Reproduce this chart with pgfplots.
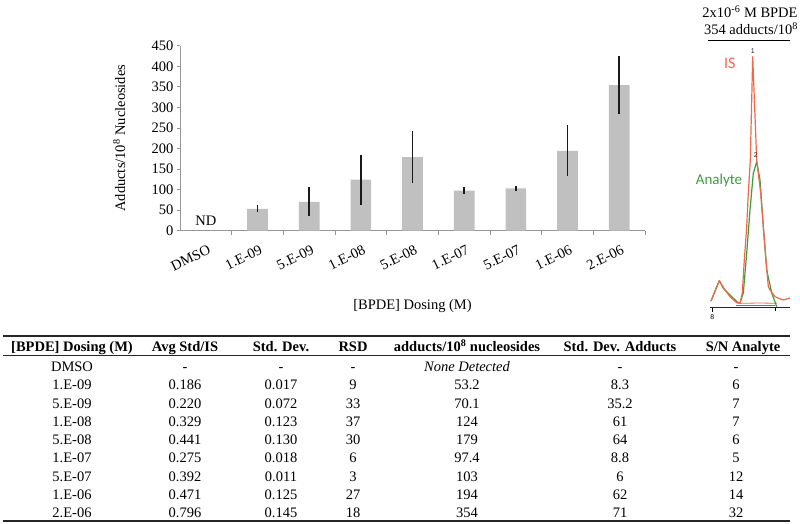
\documentclass[border=0pt]{standalone}
\usepackage{pgfplots}
\pgfplotsset{compat=1.18}
\usepackage{fontspec}
\setmainfont{Liberation Serif}
\newfontfamily\calibri{Carlito}
\newfontfamily\sansf{Liberation Sans}
\definecolor{barcol}{RGB}{192,192,192}
\definecolor{axcol}{RGB}{150,150,150}
\definecolor{iscol}{RGB}{240,104,72}
\definecolor{ancol}{RGB}{62,156,62}
\newcommand{\fs}{\fontsize{14.5}{17}\selectfont}
\newcommand{\T}[3]{\node[anchor=base,inner sep=0pt,font=\fs] at (#1pt,-#2pt) {#3};}
\newcommand{\B}[3]{\node[anchor=base,inner sep=0pt,font=\fs\bfseries] at (#1pt,-#2pt) {#3};}
\begin{document}
\begin{tikzpicture}
\useasboundingbox (0,0) rectangle (800pt,-523pt);
% ---------------- bar chart ----------------
\begin{axis}[
  at={(180pt,-230.7pt)}, anchor=south west,
  scale only axis, width=465pt, height=185pt,
  xmin=-0.5, xmax=8.5, ymin=0, ymax=450,
  axis x line*=bottom, axis y line*=left,
  axis line style={axcol, line width=0.8pt},
  xtick={0,...,8},
  xticklabels={DMSO,1.E-09,5.E-09,1.E-08,5.E-08,1.E-07,5.E-07,1.E-06,2.E-06},
  major x tick style={draw=none},
  minor xtick={0.5,1.5,...,8.5},
  ytick={0,50,...,450},
  tick align=outside,
  tick style={axcol, line width=0.8pt},
  major tick length=3pt, minor tick length=4pt,
  x tick label style={yshift=-9pt, xshift=2pt, rotate=26, anchor=north east, font=\fs, inner sep=1pt},
  y tick label style={font=\fs},
  /pgf/number format/assume math mode=true,
  every axis y label/.style={at={(axis description cs:-0.131,0.5)}, rotate=90, anchor=center, font=\fs},
  every axis x label/.style={at={(axis description cs:0.5,-0.407)}, anchor=center, font=\fs},
  ylabel={Adducts/10\textsuperscript{8} Nucleosides},
  xlabel={[BPDE] Dosing (M)},
  clip=false,
]
\addplot[ybar, bar width=0.4, fill=barcol, draw=none,
  error bars/.cd, y dir=both, y explicit, error mark=none,
  error bar style={line width=1.7pt, black!90}]
  coordinates {
  (1,53.2) +- (0,8.3)
  (2,70.1) +- (0,35.2)
  (3,124) +- (0,61)
  (4,179) +- (0,64)
  (5,97.4) +- (0,8.8)
  (6,103) +- (0,6)
  (7,194) +- (0,62)
  (8,354) +- (0,71)
  };
\node[font=\fs] at (axis cs:0,24) {ND};
\end{axis}
% ---------------- chromatogram ----------------
\begin{axis}[
  at={(695pt,-320pt)}, anchor=south west,
  scale only axis, width=105pt, height=280pt,
  xmin=695, xmax=800, ymin=40, ymax=320, y dir=reverse,
  hide axis, clip=false,
]
\addplot[iscol, line width=0.8pt] coordinates {(740,303.3) (760,303) (777,303.3)};
\addplot[ancol, line width=0.8pt] coordinates {(736,305) (755,305) (775,305)};
\addplot[ancol, line width=1.2pt, line join=round] coordinates {
 (711,301) (715,291) (719.3,280.7) (723.3,288.3) (730,295) (738,302.7) (740,303)
 (743.3,293) (746.7,253) (750,210) (753.3,173.3) (756.7,161.7) (760,180) (763.3,226.7)
 (766.7,270) (771.7,293) (776.7,306.7)};
\addplot[iscol, line width=1.2pt, line join=round] coordinates {
 (711,301) (715,291) (719.3,280.7) (725,290) (730,296.7) (736.7,302.7) (740,303.3)
 (742.3,293) (744.3,260) (746.7,226.7) (748.3,193) (750.3,160) (752.7,56.7) (756.7,160)
 (760.7,193) (763.3,226.7) (766,260) (768.3,286.7) (770,290) (775,296.7) (783,300) (790,298)};
\addplot[black!85, line width=0.9pt] coordinates {(710,307.5) (790,307.5)};
\addplot[black, line width=0.7pt] coordinates {(712.3,307.5) (712.3,312)};
\addplot[black, line width=0.7pt] coordinates {(775,307.5) (775,311)};
\addplot[black, line width=0.9pt] coordinates {(708,40) (790,40)};
\node[font=\sansf\fontsize{7}{7}\selectfont, inner sep=0pt] at (axis cs:712.3,317) {8};
\node[font=\sansf\fontsize{7}{7}\selectfont, inner sep=0pt, gray!30!black] at (axis cs:752.7,51) {1};
\node[font=\sansf\fontsize{7}{7}\selectfont, inner sep=0pt, gray!30!black] at (axis cs:755.7,155) {2};
\node[font=\calibri\fontsize{16}{16}\selectfont, text=iscol, inner sep=0pt] at (axis cs:729.7,63) {IS};
\node[font=\calibri\fontsize{15}{15}\selectfont, text=ancol, inner sep=0pt] at (axis cs:719,180) {Analyte};
\end{axis}
\node[font=\fs, inner sep=0pt] at (750pt,-11.5pt) {2x10\textsuperscript{-6} M BPDE};
\node[font=\fs, inner sep=0pt] at (751pt,-29pt) {354 adducts/10\textsuperscript{8}};
% ---------------- table ----------------
\draw[line width=1.6pt, black!85] (3pt,-336pt) -- (790pt,-336pt);
\draw[line width=0.8pt, black!85] (3pt,-355pt) -- (790pt,-355pt);
\draw[line width=1.6pt, black!85] (3pt,-521pt) -- (790pt,-521pt);
\B{72}{351.5}{[BPDE] Dosing (M)}
\B{185}{351.5}{Avg Std/IS}
\B{281}{351.5}{Std. Dev.}
\B{353}{351.5}{RSD}
\B{467}{351.5}{adducts/10\textsuperscript{8} nucleosides}
\B{620}{351.5}{Std. Dev. Adducts}
\B{743}{351.5}{S/N Analyte}
% rows
\T{72}{371.7}{DMSO}\T{185}{371.7}{-}\T{281}{371.7}{-}\T{353}{371.7}{-}\T{467}{371.7}{\itshape None Detected}\T{620}{371.7}{-}\T{736}{371.7}{-}
\T{72}{389.95}{1.E-09}\T{185}{389.95}{0.186}\T{281}{389.95}{0.017}\T{353}{389.95}{9}\T{467}{389.95}{53.2}\T{620}{389.95}{8.3}\T{736}{389.95}{6}
\T{72}{408.2}{5.E-09}\T{185}{408.2}{0.220}\T{281}{408.2}{0.072}\T{353}{408.2}{33}\T{467}{408.2}{70.1}\T{620}{408.2}{35.2}\T{736}{408.2}{7}
\T{72}{426.45}{1.E-08}\T{185}{426.45}{0.329}\T{281}{426.45}{0.123}\T{353}{426.45}{37}\T{467}{426.45}{124}\T{620}{426.45}{61}\T{736}{426.45}{7}
\T{72}{444.7}{5.E-08}\T{185}{444.7}{0.441}\T{281}{444.7}{0.130}\T{353}{444.7}{30}\T{467}{444.7}{179}\T{620}{444.7}{64}\T{736}{444.7}{6}
\T{72}{462.95}{1.E-07}\T{185}{462.95}{0.275}\T{281}{462.95}{0.018}\T{353}{462.95}{6}\T{467}{462.95}{97.4}\T{620}{462.95}{8.8}\T{736}{462.95}{5}
\T{72}{481.2}{5.E-07}\T{185}{481.2}{0.392}\T{281}{481.2}{0.011}\T{353}{481.2}{3}\T{467}{481.2}{103}\T{620}{481.2}{6}\T{736}{481.2}{12}
\T{72}{499.45}{1.E-06}\T{185}{499.45}{0.471}\T{281}{499.45}{0.125}\T{353}{499.45}{27}\T{467}{499.45}{194}\T{620}{499.45}{62}\T{736}{499.45}{14}
\T{72}{517.7}{2.E-06}\T{185}{517.7}{0.796}\T{281}{517.7}{0.145}\T{353}{517.7}{18}\T{467}{517.7}{354}\T{620}{517.7}{71}\T{736}{517.7}{32}
\end{tikzpicture}
\end{document}
